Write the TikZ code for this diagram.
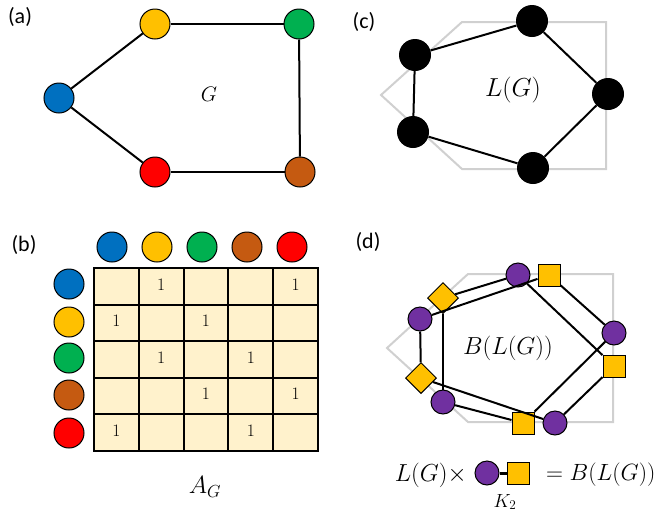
\documentclass[tikz,border=0pt]{standalone}
\usepackage{fix-cm}
\usepackage{fontspec}
\newfontfamily\panelfont{Carlito}
\usetikzlibrary{shapes.geometric}
\definecolor{nblue}{HTML}{0070C0}
\definecolor{nyellow}{HTML}{FFC000}
\definecolor{ngreen}{HTML}{00B050}
\definecolor{nbrown}{HTML}{C55A11}
\definecolor{nred}{HTML}{FF0000}
\definecolor{npurple}{HTML}{7030A0}
\definecolor{cellfill}{HTML}{FFF2CC}
\definecolor{ghostgray}{HTML}{D0D0D0}
\begin{document}
\begin{tikzpicture}
    [x=1pt,y=-1pt,inner sep=0pt,
     vtx/.style={circle,draw,line width=1pt,minimum size=30pt},
     lvtx/.style={circle,fill=black,minimum size=32pt},
     pvtx/.style={circle,draw,line width=1pt,fill=npurple,minimum size=24pt},
     svtx/.style={rectangle,draw,line width=1pt,fill=nyellow,minimum size=22pt},
     dvtx/.style={diamond,draw,line width=1pt,fill=nyellow,minimum size=31pt},
     edge/.style={line width=2pt},
     ghost/.style={line width=2pt,draw=ghostgray},
     cell/.style={rectangle,draw,line width=2pt,minimum width=44.8pt,minimum height=36.6pt},
     entry/.style={font=\fontsize{17.5}{20}\selectfont},
     panel/.style={font=\panelfont\fontsize{22}{24}\selectfont},
     bigmath/.style={font=\fontsize{24.6}{28}\selectfont}]
    \useasboundingbox (0,0) rectangle (659,515);
    % (a) the graph G
    \node (pa) at (20,17) [panel] {(a)};
    \node (blue) at (59,98) [vtx,fill=nblue] {};
    \node (yellow) at (155,24) [vtx,fill=nyellow] {};
    \node (green) at (299,24) [vtx,fill=ngreen] {};
    \node (brown) at (300,172) [vtx,fill=nbrown] {};
    \node (red) at (155,172) [vtx,fill=nred] {};
    \node (gname) at (209,94) [font=\fontsize{21}{24}\selectfont] {$G$};
    \draw [edge] (blue) to (yellow);
    \draw [edge] (yellow) to (green);
    \draw [edge] (green) to (brown);
    \draw [edge] (brown) to (red);
    \draw [edge] (red) to (blue);
    % (c) the line graph L(G)
    \node (pc) at (364,22) [panel] {(c)};
    \coordinate (gc1) at (462,22);
    \coordinate (gc2) at (606,22);
    \coordinate (gc3) at (606,169);
    \coordinate (gc4) at (462,169);
    \coordinate (gc5) at (381,95);
    \draw [ghost] (gc1) -- (gc2) -- (gc3) -- (gc4) -- (gc5) -- cycle;
    \node (lt) at (532,21) [lvtx] {};
    \node (lul) at (415,55) [lvtx] {};
    \node (lr) at (608,94) [lvtx] {};
    \node (lll) at (413,132) [lvtx] {};
    \node (lb) at (533,168) [lvtx] {};
    \node (lgname) at (513,90) [font=\fontsize{26}{30}\selectfont] {$L(G)$};
    \draw [edge] (lt) to (lul);
    \draw [edge] (lt) to (lr);
    \draw [edge] (lr) to (lb);
    \draw [edge] (lb) to (lll);
    \draw [edge] (lll) to (lul);
    % (b) adjacency matrix
    \node (pb) at (24,245) [panel] {(b)};
    \coordinate (tabtl) at (94,268);
    \coordinate (tabbr) at (318,451);
    \fill [cellfill] (tabtl) rectangle (tabbr);
    \foreach \r in {0,...,4}
      \foreach \c in {0,...,4}
        \node (c\r\c) at (116.4+44.8*\c, 286.3+36.6*\r) [cell] {};
    \node (one01) at ([yshift=2pt]c01) [entry] {1};
    \node (one04) at ([yshift=2pt]c04) [entry] {1};
    \node (one10) at ([yshift=2pt]c10) [entry] {1};
    \node (one12) at ([yshift=2pt]c12) [entry] {1};
    \node (one21) at ([yshift=2pt]c21) [entry] {1};
    \node (one23) at ([yshift=2pt]c23) [entry] {1};
    \node (one32) at ([yshift=2pt]c32) [entry] {1};
    \node (one34) at ([yshift=2pt]c34) [entry] {1};
    \node (one40) at ([yshift=2pt]c40) [entry] {1};
    \node (one43) at ([yshift=2pt]c43) [entry] {1};
    \node (tblue) at (112,247) [vtx,fill=nblue] {};
    \node (tyellow) at (157,247) [vtx,fill=nyellow] {};
    \node (tgreen) at (202,247) [vtx,fill=ngreen] {};
    \node (tbrown) at (247,247) [vtx,fill=nbrown] {};
    \node (tred) at (292,247) [vtx,fill=nred] {};
    \node (sblue) at (69,284) [vtx,fill=nblue] {};
    \node (syellow) at (69,322) [vtx,fill=nyellow] {};
    \node (sgreen) at (69,358) [vtx,fill=ngreen] {};
    \node (sbrown) at (69,395) [vtx,fill=nbrown] {};
    \node (sred) at (69,433) [vtx,fill=nred] {};
    \node (aname) at (205,487) [font=\fontsize{24.9}{28}\selectfont] {$A_G$};
    % (d) bipartite double cover B(L(G))
    \node (pd) at (368,242) [panel] {(d)};
    \coordinate (gd1) at (468,274);
    \coordinate (gd2) at (613,274);
    \coordinate (gd3) at (613,422);
    \coordinate (gd4) at (468,422);
    \coordinate (gd5) at (387,348);
    \draw [ghost] (gd1) -- (gd2) -- (gd3) -- (gd4) -- (gd5) -- cycle;
    \node (pt) at (518,275) [pvtx] {};
    \node (st) at (549,275) [svtx] {};
    \node (pul) at (420,319) [pvtx] {};
    \node (dul) at (443,298) [dvtx] {};
    \node (pr) at (614,333) [pvtx] {};
    \node (sr) at (614,366) [svtx] {};
    \node (dll) at (421,378) [dvtx] {};
    \node (pll) at (443,402) [pvtx] {};
    \node (sb) at (523,423) [svtx] {};
    \node (pbot) at (555,423) [pvtx] {};
    \node (bname) at (508,348) [bigmath] {$B(L(G))$};
    \draw [edge] (pt) to (dul);
    \draw [edge] (pt) to (sr);
    \draw [edge] (st) to (pul);
    \draw [edge] (st) to (pr);
    \draw [edge] (dul) to (pll);
    \draw [edge] (pul) to (dll);
    \draw [edge] (dll) to (pbot);
    \draw [edge] (pll) to (sb);
    \draw [edge] (sb) to (pr);
    \draw [edge] (sr) to (pbot);
    % product with K_2
    \node (eqleft) at (467,475) [bigmath,anchor=east] {$L(G)\times$};
    \node (kp) at (487,473) [pvtx] {};
    \node (ks) at (518,473) [svtx] {};
    \node (kname) at (505,502) [font=\fontsize{19}{22}\selectfont] {$K_2$};
    \node (eqright) at (546,475) [font=\fontsize{23.5}{27}\selectfont,anchor=west] {$=B(L(G))$};
    \draw [line width=3pt] (kp) to (ks);
  \end{tikzpicture}
\end{document}
